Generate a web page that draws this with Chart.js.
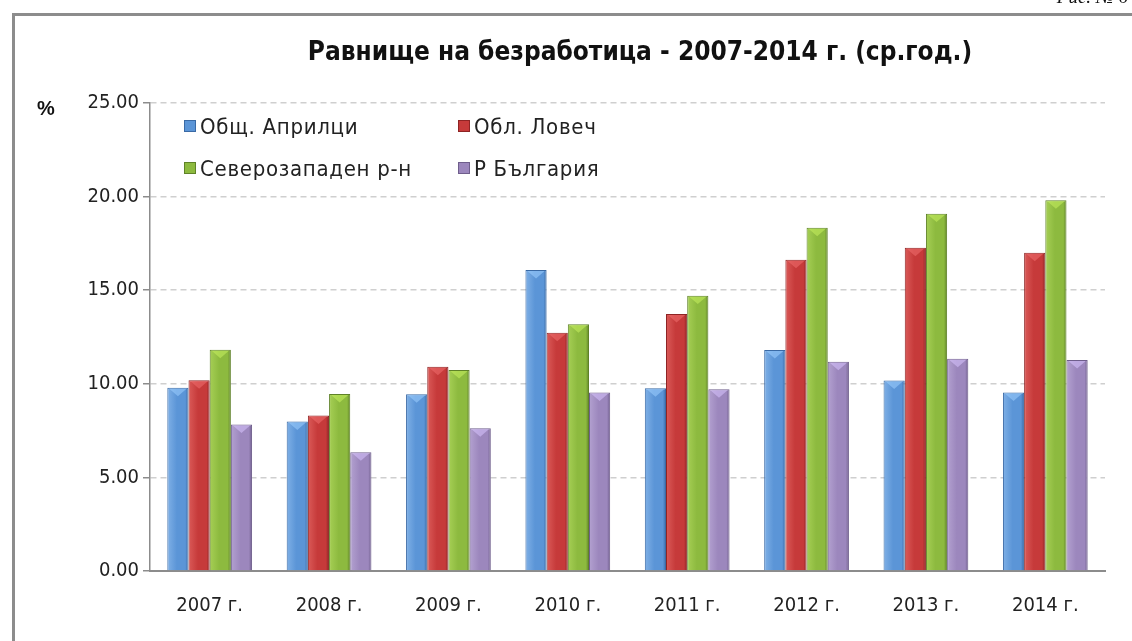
<!DOCTYPE html>
<html>
<head>
<meta charset="utf-8">
<script src="https://cdn.jsdelivr.net/npm/chart.js@4.4.1/dist/chart.umd.min.js"></script>
<style>
  html, body { margin: 0; padding: 0; background: #fff; }
  #wrap { position: relative; width: 1132px; height: 641px; overflow: hidden; }
  #frame { position: absolute; left: 12px; top: 13px; width: 1200px; height: 700px;
           border-left: 3px solid #8c8c8c; border-top: 3px solid #8c8c8c; }
  canvas { position: absolute; left: 0; top: 0; }
  .txt { position: absolute; font-family: 'DejaVu Sans Condensed', 'Liberation Sans', Arial, sans-serif; color: #111; white-space: nowrap; }
  #title { left: 0; width: 1280px; top: 36px; text-align: center; font-size: 26px; font-weight: bold; }
  #pct { left: 37px; top: 97px; font-family: 'Liberation Sans', Arial, sans-serif; font-size: 20px; font-weight: bold; }
  #fig { right: 4px; top: -14px; font-family: 'Liberation Serif', serif; font-style: italic; font-size: 19px; }
  #legend { position: absolute; left: 184px; top: 114px; width: 440px; }
  .item { position: absolute; font-family: 'DejaVu Sans Condensed', 'Liberation Sans', Arial, sans-serif; font-size: 22px; letter-spacing: 0.7px; color: #222; white-space: nowrap; }
  .box { display: inline-block; width: 10px; height: 10px; margin-right: 4px; vertical-align: 2px; }
</style>
</head>
<body>
<div id="wrap">
  <div id="frame"></div>
  <canvas id="chart" width="1132" height="641"></canvas>
  <div class="txt" id="fig">Рис. № 6</div>
  <div class="txt" id="title">Равнище на безработица  - 2007-2014 г. (ср.год.)</div>
  <div class="txt" id="pct">%</div>
  <div id="legend"></div>
</div>
<script>
// данни
const years = ['2007 г.', '2008 г.', '2009 г.', '2010 г.', '2011 г.', '2012 г.', '2013 г.', '2014 г.'];
const seriesNames = ['Общ. Априлци', 'Обл. Ловеч', 'Северозападен р-н', 'Р България'];
const aprilci = [9.79, 7.98, 9.44, 16.08, 9.76, 11.81, 10.17, 9.53];
const lovech = [10.19, 8.30, 10.91, 12.73, 13.73, 16.63, 17.27, 17.00];
const severozapaden = [11.82, 9.46, 10.74, 13.18, 14.71, 18.34, 19.09, 19.80];
const bulgaria = [7.82, 6.34, 7.62, 9.53, 9.71, 11.18, 11.34, 11.27];
const yTicks = [0, 5, 10, 15, 20, 25];

const CAT_PCT = 0.71;
const FONT = "'DejaVu Sans Condensed', 'Liberation Sans', Arial";
const palette = [
  { base: '#5b95d7', light: '#7fb0e6', dark: '#3a6aa5', cap: '#9fd0ff' },
  { base: '#c63a3a', light: '#da5a58', dark: '#8e2424', cap: '#f07070' },
  { base: '#8dba3f', light: '#a6cf55', dark: '#5f8228', cap: '#c9f060' },
  { base: '#9c87bd', light: '#b3a1d0', dark: '#6f5e8c', cap: '#d8c4ff' }
];

// хоризонтален градиент за всяка колона
function barFill(p) {
  return (c) => {
    const chart = c.chart;
    const area = chart.chartArea;
    if (!area || c.type !== 'data') return p.base;
    const x = chart.scales.x;
    const cw = (area.right - area.left) / years.length;
    const bw = cw * CAT_PCT / 4;
    const left = x.getPixelForValue(c.dataIndex) - cw * CAT_PCT / 2 + c.datasetIndex * bw;
    const g = chart.ctx.createLinearGradient(left, 0, left + bw, 0);
    g.addColorStop(0, p.light);
    g.addColorStop(0.45, p.base);
    g.addColorStop(0.85, p.base);
    g.addColorStop(1, p.dark);
    return g;
  };
}

// светъл триъгълник в горния край на колоните
const bevelPlugin = {
  id: 'bevel',
  afterDatasetsDraw(chart) {
    const ctx = chart.ctx;
    chart.data.datasets.forEach((ds, i) => {
      const meta = chart.getDatasetMeta(i);
      meta.data.forEach(bar => {
        const half = bar.width / 2;
        ctx.save();
        ctx.globalAlpha = 0.55;
        ctx.fillStyle = palette[i].cap;
        ctx.beginPath();
        ctx.moveTo(bar.x - half + 2, bar.y + 1);
        ctx.lineTo(bar.x + half - 2, bar.y + 1);
        ctx.lineTo(bar.x, bar.y + half * 0.8);
        ctx.closePath();
        ctx.fill();
        ctx.restore();
      });
    });
  }
};

const values = [aprilci, lovech, severozapaden, bulgaria];
const ctx = document.getElementById('chart').getContext('2d');
const chart = new Chart(ctx, {
  type: 'bar',
  data: {
    labels: years,
    datasets: values.map((v, i) => ({
      label: seriesNames[i],
      data: v,
      backgroundColor: barFill(palette[i]),
      borderColor: palette[i].dark,
      borderWidth: 1,
      categoryPercentage: CAT_PCT,
      barPercentage: 1.0
    }))
  },
  options: {
    responsive: false,
    animation: false,
    layout: { padding: { top: 103, right: 27, bottom: 0, left: 0 } },
    plugins: {
      legend: { display: false },
      title: { display: false },
      tooltip: { enabled: false }
    },
    scales: {
      x: {
        grid: { display: false, drawTicks: false },
        border: { display: true, color: '#8c8c8c', width: 2 },
        ticks: {
          padding: 23,
          color: '#222',
          font: { family: FONT, size: 20 }
        },
        afterFit: (s) => { s.height = 70; }
      },
      y: {
        min: 0,
        max: 25,
        afterBuildTicks: (s) => { s.ticks = yTicks.map(v => ({ value: v })); },
        grid: {
          color: '#cfcfcf',
          lineWidth: 1.5,
          tickColor: '#8c8c8c',
          tickLength: 7,
          tickBorderDash: [],
          tickWidth: 1.5
        },
        border: { display: true, color: '#8c8c8c', width: 1.5, dash: [6, 4] },
        ticks: {
          padding: 4,
          color: '#222',
          callback: (v) => Number(v).toFixed(2),
          font: { family: FONT, size: 20 }
        },
        afterFit: (s) => { s.width = 150; }
      }
    }
  },
  plugins: [bevelPlugin]
});

// легенда в две колони
const legend = document.getElementById('legend');
chart.data.datasets.forEach((ds, i) => {
  const el = document.createElement('div');
  el.className = 'item';
  el.style.left = (i % 2 === 0 ? 0 : 274) + 'px';
  el.style.top = (i < 2 ? 0 : 42) + 'px';
  const box = document.createElement('span');
  box.className = 'box';
  box.style.background = palette[i].base;
  box.style.border = '1px solid ' + palette[i].dark;
  el.appendChild(box);
  el.appendChild(document.createTextNode(ds.label));
  legend.appendChild(el);
});
</script>
</body>
</html>
